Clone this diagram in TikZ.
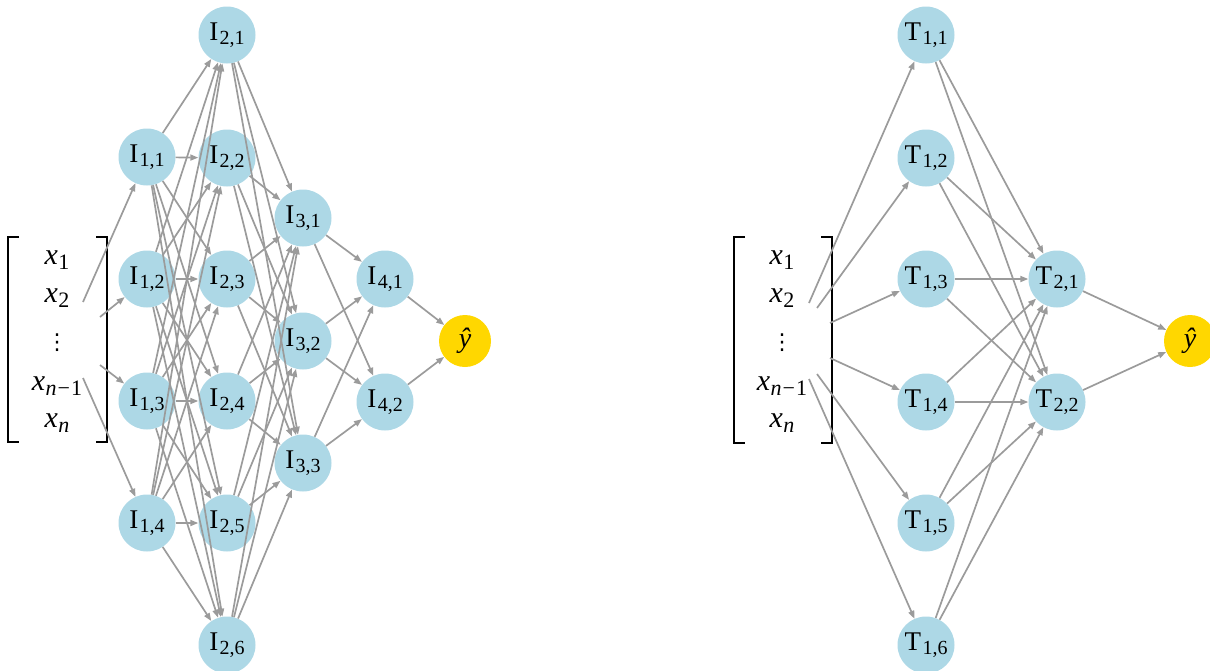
\documentclass[tikz,border=0pt]{standalone}
\usepackage{fontspec}
\setmainfont{Liberation Serif}
\newfontfamily\dejavufont{DejaVu Sans}
\usetikzlibrary{arrows.meta}
\definecolor{edgecol}{RGB}{155,155,155}
\definecolor{nodeblue}{RGB}{173,216,230}
\definecolor{gold}{RGB}{255,215,0}
\newcommand{\lbl}[2]{#1\kern1.5pt\raisebox{-4.5pt}{\fontsize{20}{20}\selectfont #2}}
\newcommand{\xv}[1]{\textit{x}\kern0.5pt\raisebox{-5.5pt}{\fontsize{22}{22}\selectfont #1}}
\begin{document}
\begin{tikzpicture}[x=1pt,y=-1pt,
  inode/.style={circle,fill=nodeblue,minimum size=57pt,inner sep=0pt,font=\fontsize{27}{27}\selectfont},
  ynode/.style={circle,fill=gold,minimum size=52pt,inner sep=0pt,font=\fontsize{28}{28}\selectfont\itshape},
  xtext/.style={inner sep=0pt,font=\fontsize{30}{30}\selectfont},
  dotstext/.style={inner sep=0pt,font=\dejavufont\fontsize{22}{22}\selectfont},
  edge/.style={draw=edgecol,line width=1.7pt,-{Triangle[length=8pt,width=6pt]}},
  brack/.style={draw=black,line width=1.8pt}]
\useasboundingbox (0,0) rectangle (1210,670);
% ---------- left network ----------
\draw[brack] (19,237) -- (8,237) -- (8,442) -- (19,442);
\draw[brack] (96,237) -- (107,237) -- (107,442) -- (96,442);
\node[xtext] (lx1) at (57,260) {\xv{1}};
\node[xtext] (lx2) at (57,298) {\xv{2}};
\node[dotstext] (ldots) at (57,343) {⋮};
\node[xtext] (lxn1) at (57,386) {\xv{\textit{n}\kern1pt−\kern1pt1}};
\node[xtext] (lxn) at (57,423) {\xv{\textit{n}}};
\coordinate (la1) at (83,302);
\coordinate (la2) at (100,317);
\coordinate (la3) at (100,365);
\coordinate (la4) at (83,378);
\node[inode] (i11) at (147,157) {\lbl{I}{1,1}};
\node[inode] (i12) at (147,279) {\lbl{I}{1,2}};
\node[inode] (i13) at (147,401) {\lbl{I}{1,3}};
\node[inode] (i14) at (147,523) {\lbl{I}{1,4}};
\node[inode] (i21) at (227,35) {\lbl{I}{2,1}};
\node[inode] (i22) at (227,158) {\lbl{I}{2,2}};
\node[inode] (i23) at (227,279) {\lbl{I}{2,3}};
\node[inode] (i24) at (227,401) {\lbl{I}{2,4}};
\node[inode] (i25) at (227,523) {\lbl{I}{2,5}};
\node[inode] (i26) at (227,645) {\lbl{I}{2,6}};
\node[inode] (i31) at (303,218) {\lbl{I}{3,1}};
\node[inode] (i32) at (303,341) {\lbl{I}{3,2}};
\node[inode] (i33) at (303,463) {\lbl{I}{3,3}};
\node[inode] (i41) at (385,279) {\lbl{I}{4,1}};
\node[inode] (i42) at (385,402) {\lbl{I}{4,2}};
\node[ynode] (ly) at (465,341) {ŷ};
\draw[edge] (la1) -- (i11);
\draw[edge] (la2) -- (i12);
\draw[edge] (la3) -- (i13);
\draw[edge] (la4) -- (i14);
\foreach \a in {1,...,4}{\foreach \b in {1,...,6}{\draw[edge] (i1\a) -- (i2\b);}}
\foreach \a in {1,...,6}{\foreach \b in {1,...,3}{\draw[edge] (i2\a) -- (i3\b);}}
\foreach \a in {1,...,3}{\foreach \b in {1,2}{\draw[edge] (i3\a) -- (i4\b);}}
\draw[edge] (i41) -- (ly);
\draw[edge] (i42) -- (ly);
% ---------- right network ----------
\draw[brack] (745,237) -- (734,237) -- (734,443) -- (745,443);
\draw[brack] (821,237) -- (832,237) -- (832,443) -- (821,443);
\node[xtext] (rx1) at (782,260) {\xv{1}};
\node[xtext] (rx2) at (782,298) {\xv{2}};
\node[dotstext] (rdots) at (782,343) {⋮};
\node[xtext] (rxn1) at (782,386) {\xv{\textit{n}\kern1pt−\kern1pt1}};
\node[xtext] (rxn) at (782,423) {\xv{\textit{n}}};
\coordinate (ra1) at (809,303);
\coordinate (ra2) at (817,308);
\coordinate (ra3) at (830,323);
\coordinate (ra4) at (830,358);
\coordinate (ra5) at (817,374);
\coordinate (ra6) at (809,379);
\node[inode] (t11) at (926,35) {\lbl{T}{1,1}};
\node[inode] (t12) at (926,158) {\lbl{T}{1,2}};
\node[inode] (t13) at (926,279) {\lbl{T}{1,3}};
\node[inode] (t14) at (926,402) {\lbl{T}{1,4}};
\node[inode] (t15) at (926,523) {\lbl{T}{1,5}};
\node[inode] (t16) at (926,645) {\lbl{T}{1,6}};
\node[inode] (t21) at (1057,279) {\lbl{T}{2,1}};
\node[inode] (t22) at (1057,402) {\lbl{T}{2,2}};
\node[ynode] (ry) at (1190,341) {ŷ};
\foreach \a in {1,...,6}{\draw[edge] (ra\a) -- (t1\a);}
\foreach \a in {1,...,6}{\foreach \b in {1,2}{\draw[edge] (t1\a) -- (t2\b);}}
\draw[edge] (t21) -- (ry);
\draw[edge] (t22) -- (ry);
\end{tikzpicture}
\end{document}
